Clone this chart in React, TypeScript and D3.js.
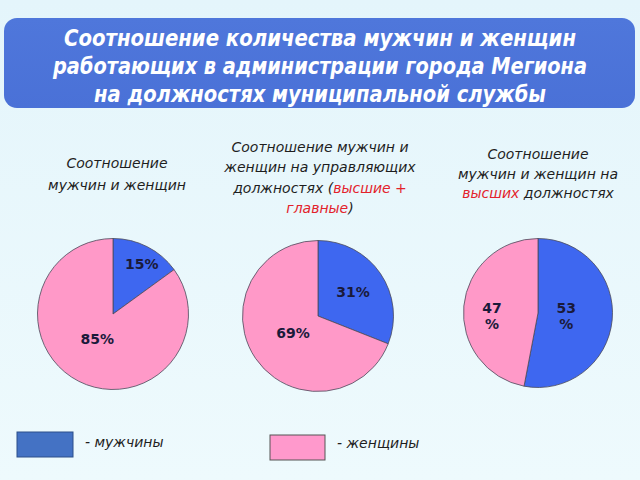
import React from "react";
import * as d3 from "d3";

const titleLines = [
  "Соотношение количества мужчин и женщин",
  "работающих в администрации города Мегиона",
  "на должностях муниципальной службы",
];

// each subtitle line: array of [text, isRed]
const subtitles: [string, boolean][][][] = [
  [[["Соотношение", false]], [["мужчин и женщин", false]]],
  [
    [["Соотношение мужчин и", false]],
    [["женщин на управляющих", false]],
    [["должностях (", false], ["высшие +", true]],
    [["главные", true], [")", false]],
  ],
  [
    [["Соотношение", false]],
    [["мужчин и женщин на", false]],
    [["высших", true], [" должностях", false]],
  ],
];

const menShare = [15, 31, 53];
const womenShare = [85, 69, 47];
const menLabels = [["15%"], ["31%"], ["53", "%"]];
const womenLabels = [["85%"], ["69%"], ["47", "%"]];
const legendLabels = ["- мужчины", "- женщины"];

// layout
const centers = [
  { x: 113, y: 314, r: 75.5 },
  { x: 318, y: 316, r: 75.5 },
  { x: 538, y: 313, r: 74.5 },
];
const labelRadiusMen = [0.75, 0.56, 0.38];
const labelRadiusWomen = [0.4, 0.4, 0.62];
const labelShiftMen = [[3, 0], [0, 0], [0, 0]];
const labelShiftWomen = [[-2, -2], [0, 0], [0, 7]];
const subX = [117, 320, 538];
const subY0 = [168, 152, 159];
const subDy = [22, 20.3, 19.5];
const titleWidths = [512, 534, 452];

const BLUE = "#3e67f0";
const PINK = "#ff99c8";

export default function App() {
  const pie = d3
    .pie<number>()
    .sort(null)
    .value((d) => d);

  return (
    <svg
      width={640}
      height={480}
      style={{ position: "absolute", left: 0, top: 0 }}
      fontFamily="'DejaVu Sans', sans-serif"
    >
      <defs>
        <linearGradient id="bg" x1="0" y1="0" x2="0" y2="1">
          <stop offset="0" stopColor="#e4f5fb" />
          <stop offset="1" stopColor="#eefafd" />
        </linearGradient>
        <linearGradient id="tb" x1="0" y1="0" x2="0" y2="1">
          <stop offset="0" stopColor="#4f77db" />
          <stop offset="1" stopColor="#4a71d7" />
        </linearGradient>
      </defs>
      <rect x={0} y={0} width={640} height={480} fill="url(#bg)" />
      <rect x={4} y={18} width={631} height={90} rx={13} fill="url(#tb)" />
      {titleLines.map((t, i) => (
        <text
          key={i}
          x={320}
          y={46 + i * 28}
          textAnchor="middle"
          fill="#ffffff"
          fontFamily="'DejaVu Sans Condensed', 'DejaVu Sans', sans-serif"
          fontStyle="italic"
          fontWeight="bold"
          fontSize={23}
          textLength={titleWidths[i]}
          lengthAdjust="spacingAndGlyphs"
        >
          {t}
        </text>
      ))}

      {subtitles.map((lines, ci) =>
        lines.map((parts, li) => (
          <text
            key={`s${ci}-${li}`}
            x={subX[ci]}
            y={subY0[ci] + li * subDy[ci]}
            textAnchor="middle"
            fontSize={14}
            fill="#1e1e1e"
            fontStyle="italic"
          >
            {parts.map(([txt, red], pi) => (
              <tspan key={pi} fill={red ? "#e3222b" : "#1e1e1e"}>
                {txt}
              </tspan>
            ))}
          </text>
        ))
      )}

      {centers.map((c, ci) => {
        const arcs = pie([menShare[ci], womenShare[ci]]);
        const arc = d3.arc<d3.PieArcDatum<number>>().innerRadius(0).outerRadius(c.r);
        const labels = [menLabels[ci], womenLabels[ci]];
        const lr = [labelRadiusMen[ci], labelRadiusWomen[ci]];
        const sh = [labelShiftMen[ci], labelShiftWomen[ci]];
        return (
          <g key={ci} transform={`translate(${c.x},${c.y})`}>
            {arcs.map((a, ai) => (
              <path
                key={ai}
                d={arc(a) || ""}
                fill={ai === 0 ? BLUE : PINK}
                stroke="#4a4a5a"
                strokeWidth={0.8}
              />
            ))}
            {arcs.map((a, ai) => {
              const la = d3
                .arc<d3.PieArcDatum<number>>()
                .innerRadius(c.r * lr[ai])
                .outerRadius(c.r * lr[ai]);
              const [cx, cy] = la.centroid(a);
              const lx = cx + sh[ai][0];
              const ly = cy + sh[ai][1];
              const ls = labels[ai];
              return (
                <text
                  key={`l${ai}`}
                  x={lx}
                  y={ly - ((ls.length - 1) * 16) / 2 + 5}
                  textAnchor="middle"
                  fontWeight="bold"
                  fontSize={14}
                  fill="#1a1a3a"
                >
                  {ls.map((s, si) => (
                    <tspan key={si} x={lx} dy={si === 0 ? 0 : 16}>
                      {s}
                    </tspan>
                  ))}
                </text>
              );
            })}
          </g>
        );
      })}

      <rect x={17} y={432} width={56} height={25} fill="#4472c4" stroke="#2d4f8a" strokeWidth={1} />
      <text x={85} y={447} fontSize={14} fontStyle="italic" fill="#1e1e1e">
        {legendLabels[0]}
      </text>
      <rect x={270} y={435} width={55} height={25} fill="#ff99cc" stroke="#555" strokeWidth={1} />
      <text x={337} y={448} fontSize={14} fontStyle="italic" fill="#1e1e1e">
        {legendLabels[1]}
      </text>
    </svg>
  );
}
